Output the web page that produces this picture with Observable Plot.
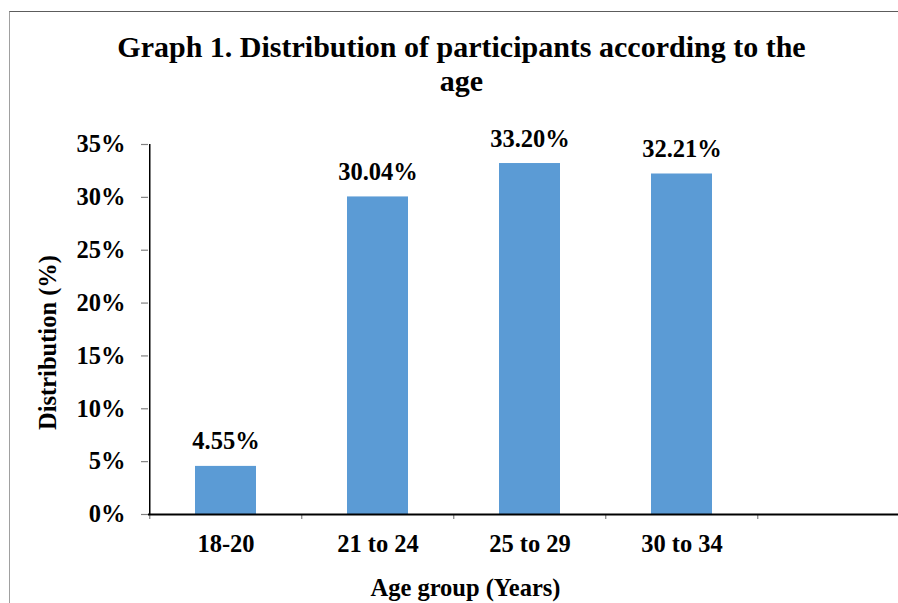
<!DOCTYPE html>
<html>
<head>
<meta charset="utf-8">
<script src="https://cdn.jsdelivr.net/npm/d3@7"></script>
<script src="https://cdn.jsdelivr.net/npm/@observablehq/plot@0.6"></script>
<style>
  html, body { margin: 0; padding: 0; background: #fff; }
  #chart {
    position: relative; width: 898px; height: 603px; overflow: hidden;
    font-family: "Liberation Serif", "Times New Roman", serif; color: #000;
  }
  #edge {
    position: absolute; left: 9px; top: 11px; right: -2px; bottom: -2px;
    border-top: 1.5px solid #5c5c5c; border-left: 1px solid #a0a0a0;
  }
  #title {
    position: absolute; left: 25px; width: 873px; top: 30px;
    text-align: center; font-weight: bold; font-size: 30px; line-height: 34px;
  }
  #plot { position: absolute; left: 0; top: 100px; }
  #xlabel {
    position: absolute; left: 33px; width: 865px; top: 574px;
    text-align: center; font-weight: bold; font-size: 24.5px; line-height: 28px;
  }
  #plot svg text { font-family: "Liberation Serif", "Times New Roman", serif; }
</style>
</head>
<body>
<div id="chart">
  <div id="edge"></div>
  <div id="title">Graph 1. Distribution of participants according to the<br>age</div>
  <div id="plot"></div>
  <div id="xlabel">Age group (Years)</div>
</div>
<script>
// Age groups and the share of participants in each (percent)
const categories = ["18-20", "21 to 24", "25 to 29", "30 to 34"];
const shares = [4.55, 30.04, 33.20, 32.21];
const yTicks = [0, 5, 10, 15, 20, 25, 30, 35];

const data = categories.map((group, i) => ({group, share: shares[i]}));

// The category axis keeps one empty slot after the last age group
const xDomain = [...categories, ""];
const xRange = [148, 910.5];
const step = (xRange[1] - xRange[0]) / xDomain.length;

const font = "'Liberation Serif', 'Times New Roman', serif";
const textStyle = {fill: "#000", fontFamily: font, fontSize: 24.5, fontWeight: "bold"};

const chart = Plot.plot({
  width: 898,
  height: 503,
  marginTop: 44,
  marginBottom: 89,
  marginLeft: 148,
  marginRight: 0,
  style: {fontFamily: font, fontSize: "24.5px", fontWeight: "bold", background: "transparent", overflow: "visible"},
  x: {domain: xDomain, range: xRange, paddingInner: 0.6, paddingOuter: 0.3, axis: null},
  y: {domain: [0, 35], axis: null},
  marks: [
    Plot.barY(data, {x: "group", y: "share", fill: "#5B9BD5"}),
    // y axis: gray ticks, bold percent labels
    Plot.axisY({ticks: yTicks, tickFormat: d => d + "%", tickSize: 7, tickPadding: 16, label: null,
      stroke: "#808080", strokeWidth: 1.2, ...textStyle}),
    // vertical axis line at the left edge of the first slot
    Plot.ruleX([categories[0]], {x: d => d, y1: 0, y2: 35, dx: -step / 2, stroke: "#000", strokeWidth: 1.5}),
    // category boundary ticks below the baseline
    Plot.axisX({tickSize: 5, tickFormat: () => "", dx: -step / 2, label: null, stroke: "#808080", strokeWidth: 1.2}),
    // category labels
    Plot.axisX({ticks: categories, tickSize: 0, tickPadding: 20, label: null, ...textStyle}),
    Plot.ruleY([0], {stroke: "#000", strokeWidth: 2}),
    // value labels above each bar
    Plot.text(data, {x: "group", y: "share", text: d => d.share.toFixed(2) + "%",
      lineAnchor: "bottom", dy: -17, ...textStyle}),
    // y axis title
    Plot.text(["Distribution (%)"], {frameAnchor: "left", text: d => d, rotate: -90,
      textAnchor: "middle", lineAnchor: "middle", dx: -100, dy: 13, ...textStyle})
  ]
});

document.getElementById("plot").appendChild(chart);
</script>
</body>
</html>
